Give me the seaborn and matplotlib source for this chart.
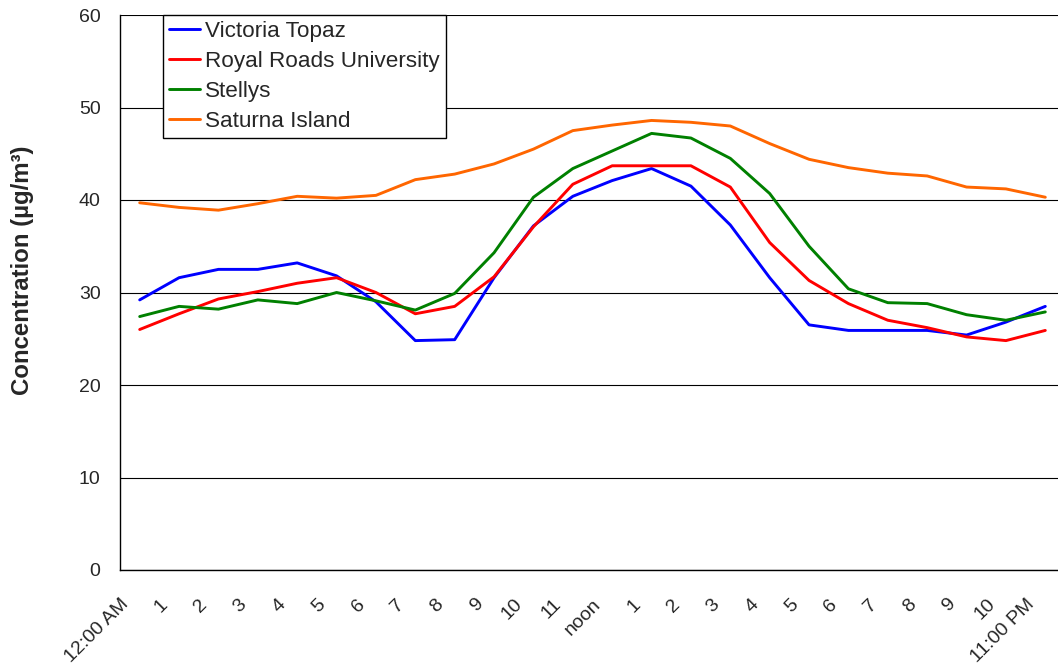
import matplotlib
matplotlib.use("Agg")
import matplotlib.pyplot as plt
import seaborn as sns
import pandas as pd
import numpy as np

hours = ["12:00 AM", "1", "2", "3", "4", "5", "6", "7", "8", "9", "10", "11",
         "noon", "1", "2", "3", "4", "5", "6", "7", "8", "9", "10", "11:00 PM"]

victoria_topaz = [29.2, 31.6, 32.5, 32.5, 33.2, 31.8, 29.0, 24.8, 24.9, 31.6, 37.2, 40.4,
                  42.1, 43.4, 41.5, 37.3, 31.6, 26.5, 25.9, 25.9, 25.9, 25.4, 26.8, 28.5]
royal_roads = [26.0, 27.7, 29.3, 30.1, 31.0, 31.6, 30.0, 27.7, 28.5, 31.7, 37.1, 41.7,
               43.7, 43.7, 43.7, 41.4, 35.4, 31.3, 28.8, 27.0, 26.2, 25.2, 24.8, 25.9]
stellys = [27.4, 28.5, 28.2, 29.2, 28.8, 30.0, 29.1, 28.1, 29.9, 34.3, 40.3, 43.4,
           45.3, 47.2, 46.7, 44.5, 40.7, 35.0, 30.4, 28.9, 28.8, 27.6, 27.0, 27.9]
saturna = [39.7, 39.2, 38.9, 39.6, 40.4, 40.2, 40.5, 42.2, 42.8, 43.9, 45.5, 47.5,
           48.1, 48.6, 48.4, 48.0, 46.1, 44.4, 43.5, 42.9, 42.6, 41.4, 41.2, 40.3]

series_names = ["Victoria Topaz", "Royal Roads University", "Stellys", "Saturna Island"]
series_values = [victoria_topaz, royal_roads, stellys, saturna]
colors = ["#0000FF", "#FF0000", "#008000", "#FF6600"]

rows = []
for name, vals in zip(series_names, series_values):
    for i, v in enumerate(vals):
        rows.append({"hour": i, "value": v, "station": name})
df = pd.DataFrame(rows)

sns.set_style("white")
plt.rcParams["font.family"] = ["Liberation Sans", "DejaVu Sans"]

fig = plt.figure(figsize=(10.58, 6.71), dpi=100)
ax = fig.add_axes([120 / 1058, 1 - 570 / 671, 945 / 1058, 555 / 671])

# positions: category centers at hour + 0.5
df["xpos"] = df["hour"] + 0.5
sns.lineplot(data=df, x="xpos", y="value", hue="station", hue_order=series_names,
             palette=colors, linewidth=2.1, ax=ax, legend=True)

ax.set_xlim(0, 24)
ax.set_ylim(0, 60)
ax.set_yticks(np.arange(0, 61, 10))
ax.yaxis.grid(True, color="black", linewidth=0.8)
ax.set_axisbelow(True)

ax.set_xticks(np.arange(0, 25))
ax.set_xticklabels(hours + [""], rotation=45, ha="right", va="top",
                   rotation_mode="anchor", fontsize=14)
ax.tick_params(axis="x", direction="out", length=6, width=1, color="black", pad=12.5)
ax.tick_params(axis="y", direction="out", length=6, width=1, color="black", labelsize=14, pad=8)

ax.set_xlabel("")
ax.set_ylabel("Concentration (µg/m³)", fontsize=17.3, fontweight="bold")
ax.yaxis.set_label_coords(-86 / 945, (570 - 270) / 555)

for side in ["top", "right"]:
    ax.spines[side].set_visible(False)
for side in ["left", "bottom"]:
    ax.spines[side].set_color("black")
    ax.spines[side].set_linewidth(1)

handles, labels = ax.get_legend_handles_labels()
leg = ax.legend(handles, labels, loc="upper left", bbox_to_anchor=(43 / 945, 1.0),
                borderaxespad=0, frameon=True, fancybox=False, fontsize=16.2,
                handlelength=1.4, handletextpad=0.22, labelspacing=0.40, borderpad=0.26)
leg.get_frame().set_edgecolor("black")
leg.get_frame().set_linewidth(1)
leg.get_frame().set_alpha(1)
for line in leg.get_lines():
    line.set_linewidth(2.1)

fig.savefig("out.png", dpi=100)
